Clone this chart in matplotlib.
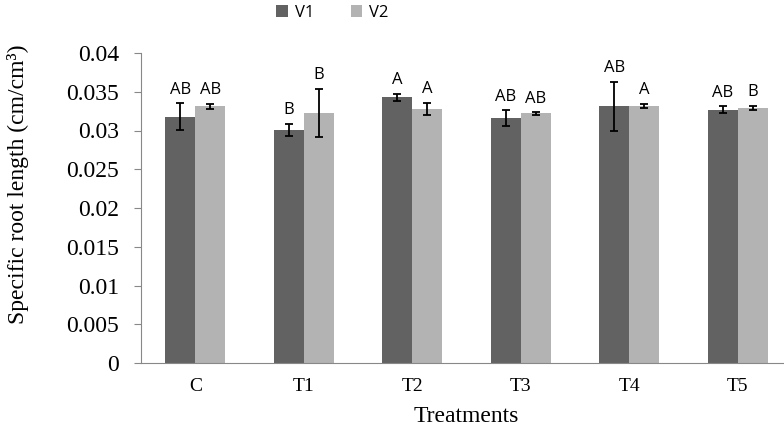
import numpy as np
import matplotlib.pyplot as plt

treatments = ["C", "T1", "T2", "T3", "T4", "T5"]
v1_mean = [0.0318, 0.0301, 0.0343, 0.0316, 0.0331, 0.0327]
v1_err = [0.0017, 0.00075, 0.00043, 0.00103, 0.0032, 0.00045]
v2_mean = [0.0331, 0.0323, 0.0328, 0.0322, 0.0332, 0.0329]
v2_err = [0.00032, 0.0031, 0.0008, 0.00015, 0.00028, 0.0003]
v1_letters = ["AB", "B", "A", "AB", "AB", "AB"]
v2_letters = ["AB", "B", "A", "AB", "A", "B"]

serif = "Liberation Serif"
sans = "Open Sans"

fig = plt.figure(figsize=(7.84, 4.32), dpi=100)
ax = fig.add_axes([141 / 784, 1 - 363 / 432, 651 / 784, 310 / 432])

x = np.arange(len(treatments))
w = 0.277
ekw = dict(ecolor="black", elinewidth=1.3, capsize=3, capthick=1.3)
b1 = ax.bar(x - w / 2, v1_mean, w, color="#626262", label="V1", yerr=v1_err, error_kw=ekw)
b2 = ax.bar(x + w / 2, v2_mean, w, color="#b3b3b3", label="V2", yerr=v2_err, error_kw=ekw)

for xs, m, e, labs in [(x - w / 2, v1_mean, v1_err, v1_letters),
                       (x + w / 2, v2_mean, v2_err, v2_letters)]:
    for xi, mi, ei, lab in zip(xs, m, e, labs):
        ax.annotate(lab, (xi, mi + ei), xytext=(0, 4), textcoords="offset points",
                    ha="center", va="bottom", fontsize=12, family=sans)

ax.set_xlim(-0.5, 5.5)
ax.set_ylim(0, 0.04)
ax.set_yticks(np.arange(0, 0.0401, 0.005))
ax.set_yticklabels(["0", "0.005", "0.01", "0.015", "0.02", "0.025", "0.03", "0.035", "0.04"],
                   family=serif, fontsize=17)
ax.set_xticks(x)
ax.set_xticklabels(treatments, family=serif, fontsize=14)
ax.tick_params(axis="x", length=0, pad=11)
ax.tick_params(axis="y", length=5, color="#888888", pad=11)

for s in ["top", "right"]:
    ax.spines[s].set_visible(False)
for s in ["left", "bottom"]:
    ax.spines[s].set_color("#888888")

ax.set_ylabel("Specific root length (cm/cm³)", family=serif, fontsize=17)
ax.yaxis.set_label_coords(-0.172, 0.575)
ax.set_xlabel("Treatments", family=serif, fontsize=17, labelpad=8)

fig.legend(handles=[b1, b2], loc="center", bbox_to_anchor=(0.424, 1 - 13 / 432), ncol=2,
           frameon=False, prop={"family": sans, "size": 12}, handlelength=0.7,
           handleheight=0.7, columnspacing=2.2, handletextpad=0.4)

fig.savefig("out.png", dpi=100)
